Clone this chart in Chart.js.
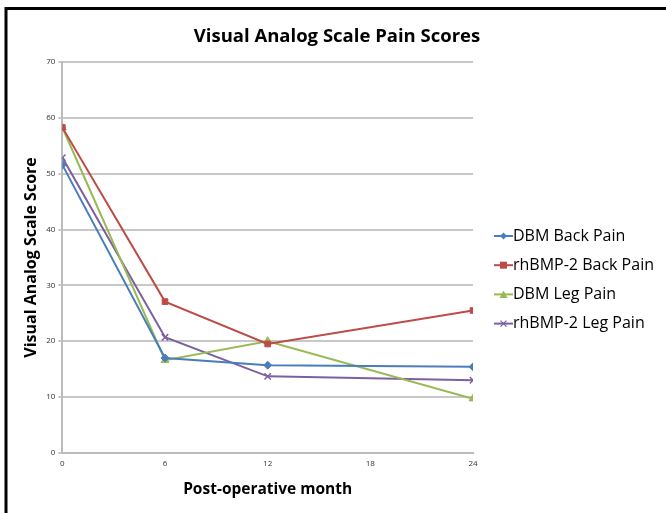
<!DOCTYPE html>
<html>
<head>
<meta charset="utf-8">
<script src="https://cdn.jsdelivr.net/npm/chart.js@4"></script>
<style>
  html, body { margin: 0; padding: 0; background: #fff; }
  #wrap { width: 666px; height: 513px; }
</style>
</head>
<body>
<div id="wrap"><canvas id="vasChart" width="666" height="513"></canvas></div>
<script>
// months and scores
const months = [0, 6, 12, 24];
const dbmBack = [51.6, 17.0, 15.7, 15.4];
const bmpBack = [58.3, 27.1, 19.5, 25.5];
const dbmLeg = [58.3, 16.6, 20.0, 9.7];
const bmpLeg = [52.9, 20.7, 13.7, 13.0];
const xTicks = [0, 6, 12, 18, 24];
const yTicks = [0, 10, 20, 30, 40, 50, 60, 70];

const FONT = "'Open Sans', 'Noto Sans', sans-serif";

function pts(vals) {
  return months.map((m, i) => ({ x: m, y: vals[i] }));
}

const series = [
  { label: "DBM Back Pain", vals: dbmBack, color: "#4a7ebb", style: "rectRot", r: 4 },
  { label: "rhBMP-2 Back Pain", vals: bmpBack, color: "#be4b48", style: "rect", r: 4 },
  { label: "DBM Leg Pain", vals: dbmLeg, color: "#98b954", style: "triangle", r: 4.5 },
  { label: "rhBMP-2 Leg Pain", vals: bmpLeg, color: "#7d60a0", style: "crossRot", r: 4.5 }
];

// Excel-style legend: short line with the marker, then the label
const sideLegend = {
  id: "sideLegend",
  afterDraw(chart) {
    const ctx = chart.ctx;
    const x0 = chart.chartArea.right + 21;
    ctx.save();
    ctx.font = "16px " + FONT;
    ctx.textBaseline = "middle";
    series.forEach((s, i) => {
      const y = 236 + i * 29.2;
      ctx.strokeStyle = s.color;
      ctx.fillStyle = s.color;
      ctx.lineWidth = 2;
      ctx.beginPath(); ctx.moveTo(x0, y); ctx.lineTo(x0 + 19, y); ctx.stroke();
      const cx = x0 + 9.5;
      ctx.lineWidth = 1.3;
      if (s.style === "rectRot") {
        ctx.beginPath(); ctx.moveTo(cx, y - 3.5); ctx.lineTo(cx + 3.5, y); ctx.lineTo(cx, y + 3.5); ctx.lineTo(cx - 3.5, y); ctx.closePath(); ctx.fill();
      } else if (s.style === "rect") {
        ctx.fillRect(cx - 3.5, y - 3.5, 7, 7);
      } else if (s.style === "triangle") {
        ctx.beginPath(); ctx.moveTo(cx, y - 4); ctx.lineTo(cx + 4, y + 3.5); ctx.lineTo(cx - 4, y + 3.5); ctx.closePath(); ctx.fill();
      } else {
        ctx.beginPath(); ctx.moveTo(cx - 3, y - 3); ctx.lineTo(cx + 3, y + 3); ctx.moveTo(cx + 3, y - 3); ctx.lineTo(cx - 3, y + 3); ctx.stroke();
      }
      ctx.fillStyle = "#000";
      ctx.fillText(s.label, x0 + 19, y);
    });
    // picture frame: top and left edge
    ctx.strokeStyle = "#000";
    ctx.lineWidth = 3;
    ctx.beginPath();
    ctx.moveTo(6, 513); ctx.lineTo(6, 8.5); ctx.lineTo(666, 8.5);
    ctx.stroke();
    ctx.restore();
  }
};

const ctx = document.getElementById("vasChart").getContext("2d");
new Chart(ctx, {
  type: "line",
  data: {
    datasets: series.map(s => ({
      label: s.label,
      data: pts(s.vals),
      borderColor: s.color,
      backgroundColor: s.color,
      borderWidth: 2,
      pointStyle: s.style,
      pointRadius: s.r,
      pointBorderWidth: s.style === "crossRot" ? 1.5 : 1,
      tension: 0,
      fill: false
    }))
  },
  options: {
    responsive: false,
    animation: false,
    layout: { padding: { left: 18, right: 10, top: 26, bottom: 10 } },
    plugins: {
      title: {
        display: true,
        text: "Visual Analog Scale Pain Scores",
        color: "#000",
        font: { family: FONT, size: 18.5, weight: "bold" },
        padding: { top: 0, bottom: 14 }
      },
      legend: { display: false },
      tooltip: { enabled: false }
    },
    scales: {
      x: {
        type: "linear",
        min: 0,
        max: 24,
        afterBuildTicks: axis => { axis.ticks = xTicks.map(v => ({ value: v })); },
        grid: { display: false, drawTicks: true, tickLength: 4, color: "#bbb" },
        border: { color: "#bbb", width: 2 },
        ticks: { color: "#333", font: { family: FONT, size: 8 }, padding: 2, maxRotation: 0 },
        title: {
          display: true,
          text: "Post-operative month",
          color: "#000",
          font: { family: FONT, size: 15.5, weight: "bold" },
          padding: { top: 10 }
        }
      },
      y: {
        min: 0,
        max: 70,
        afterBuildTicks: axis => { axis.ticks = yTicks.map(v => ({ value: v })); },
        grid: { color: "#c8c8c8", lineWidth: 2, tickLength: 4 },
        border: { color: "#bbb", width: 2 },
        ticks: { color: "#333", font: { family: FONT, size: 8 }, padding: 3 },
        title: {
          display: true,
          text: "Visual Analog Scale Score",
          color: "#000",
          font: { family: FONT, size: 16, weight: "bold" },
          padding: { bottom: 2 }
        }
      },
      // empty right-hand box that leaves room for the legend
      legendRoom: {
        type: "linear",
        position: "right",
        grid: { display: false },
        border: { display: false },
        ticks: { display: false },
        afterFit: axis => { axis.width = 183; }
      }
    }
  },
  plugins: [sideLegend]
});
</script>
</body>
</html>
